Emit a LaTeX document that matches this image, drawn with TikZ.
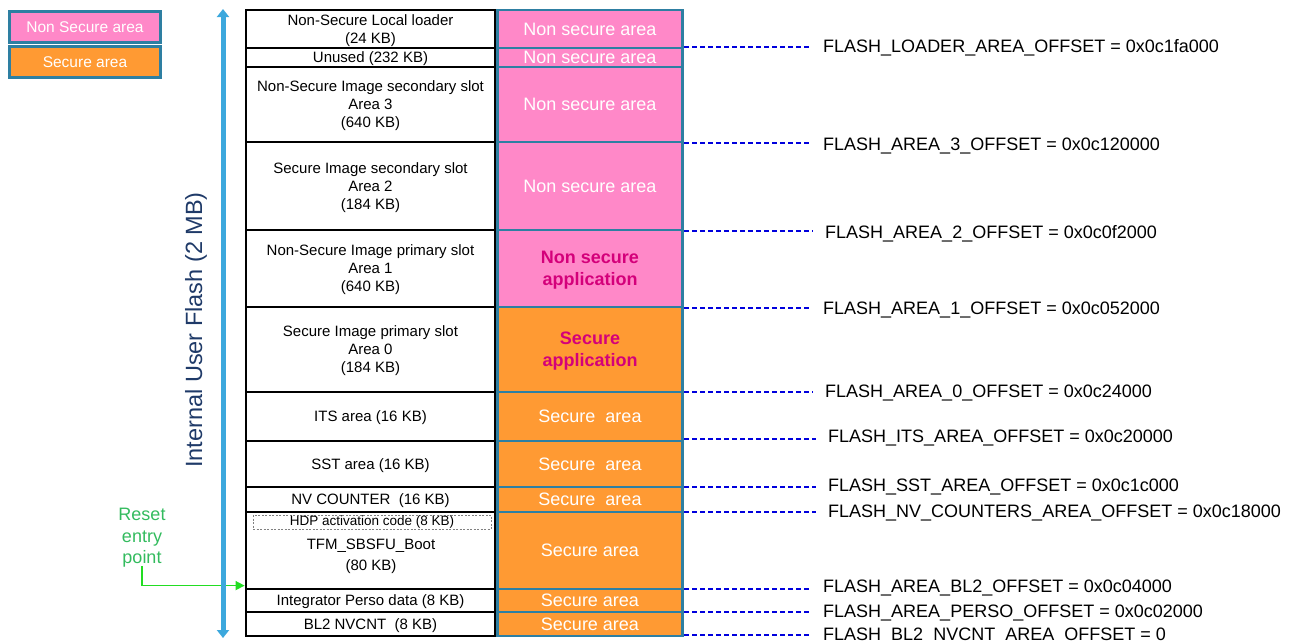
\documentclass[tikz,border=0pt]{standalone}
\usepackage{fontspec}
\setmainfont{Liberation Sans}
\usetikzlibrary{arrows.meta}
\definecolor{pinkA}{HTML}{FF88C8}
\definecolor{orangeA}{HTML}{FF9A33}
\definecolor{cellborder}{HTML}{2E7FA2}
\definecolor{magentaT}{HTML}{D4007A}
\definecolor{navyT}{HTML}{1F3A68}
\definecolor{lblue}{HTML}{3CA8DD}
\definecolor{dashblue}{HTML}{0000DD}
\definecolor{resetgreen}{HTML}{33BB5E}
\definecolor{arrowgreen}{HTML}{22DD22}
\tikzset{
  lbox/.style={draw=black, line width=2.8pt, fill=white, minimum width=249pt, inner sep=0pt, align=center,
    text depth=-2pt, font=\fontsize{15}{18}\selectfont},
  rcell/.style={draw=cellborder, line width=2.6pt, minimum width=185pt, inner sep=0pt, align=center,
    text depth=-2pt, text=white, font=\fontsize{18}{22}\selectfont},
  nscell/.style={rcell, fill=pinkA},
  scell/.style={rcell, fill=orangeA},
  appcell/.style={text=magentaT, font=\fontsize{18}{22}\selectfont\bfseries},
  offlbl/.style={anchor=west, inner sep=0pt, yshift=-1.5pt, font=\fontsize{18}{20}\selectfont, text=black},
  dashln/.style={draw=dashblue, line width=1.2pt, dash pattern=on 5pt off 3pt},
  legbox/.style={draw=cellborder, line width=2.6pt, minimum width=151pt, minimum height=31pt, inner sep=0pt,
    text=white, font=\fontsize{15.5}{18}\selectfont},
}
\begin{document}
\begin{tikzpicture}[x=1pt, y=-1pt]
\useasboundingbox (0,0) rectangle (1295,641);

% legend
\node[legbox, fill=pinkA] (legNS) at (85,27) {Non Secure area};
\node[legbox, fill=orangeA] (legS) at (85,62) {Secure area};

% right column cells
\node[nscell, minimum height=38pt] (R1) at (590,29) {Non secure area};
\node[nscell, minimum height=19pt] (R2) at (590,57.5) {Non secure area};
\node[nscell, minimum height=75pt] (R3) at (590,104.5) {Non secure area};
\node[nscell, minimum height=88pt] (R4) at (590,186) {Non secure area};
\node[nscell, appcell, minimum height=77pt] (R5) at (590,268.5) {Non secure\\application};
\node[scell, appcell, minimum height=85pt] (R6) at (590,349.5) {Secure\\application};
\node[scell, minimum height=49pt] (R7) at (590,416.5) {Secure\ \ area};
\node[scell, minimum height=46pt] (R8) at (590,464) {Secure\ \ area};
\node[scell, minimum height=25pt] (R9) at (590,499.5) {Secure\ \ area};
\node[scell, minimum height=77pt] (R10) at (590,550.5) {Secure area};
\node[scell, minimum height=23pt] (R11) at (590,600.5) {Secure area};
\node[scell, minimum height=24pt] (R12) at (590,624) {Secure area};

% left column boxes
\node[lbox, minimum height=38pt] (L1) at (370.5,29) {Non-Secure Local loader\\(24 KB)};
\node[lbox, minimum height=19pt] (L2) at (370.5,57.5) {Unused (232 KB)};
\node[lbox, minimum height=75pt] (L3) at (370.5,104.5) {Non-Secure Image secondary slot\\Area 3\\(640 KB)};
\node[lbox, minimum height=88pt] (L4) at (370.5,186) {Secure Image secondary slot\\Area 2\\(184 KB)};
\node[lbox, minimum height=77pt] (L5) at (370.5,268.5) {Non-Secure Image primary slot\\Area 1\\(640 KB)};
\node[lbox, minimum height=85pt] (L6) at (370.5,349.5) {Secure Image primary slot\\Area 0\\(184 KB)};
\node[lbox, minimum height=49pt] (L7) at (370.5,416.5) {ITS area (16 KB)};
\node[lbox, minimum height=46pt] (L8) at (370.5,464) {SST area (16 KB)};
\node[lbox, minimum height=25pt] (L9) at (370.5,499.5) {NV COUNTER\ \ (16 KB)};
\node[lbox, minimum height=77pt] (L10) at (370.5,550.5) {};
\node[lbox, minimum height=23pt] (L11) at (370.5,600.5) {Integrator Perso data (8 KB)};
\node[lbox, minimum height=24pt] (L12) at (370.5,624) {BL2 NVCNT\ \ (8 KB)};
\node[draw=gray, line width=0.8pt, dash pattern=on 2pt off 1.5pt, minimum width=238pt, minimum height=14pt,
  inner sep=0pt, font=\fontsize{13.5}{15}\selectfont] (hdp) at (372,522) {HDP activation code (8 KB)};
\node[align=center, inner sep=0pt, font=\fontsize{15}{21}\selectfont] (tfm) at (371,556) {TFM\_SBSFU\_Boot\\(80 KB)};

% offset labels
\node[offlbl] (o1) at (823,46) {FLASH\_LOADER\_AREA\_OFFSET = 0x0c1fa000};
\node[offlbl] (o2) at (823,144) {FLASH\_AREA\_3\_OFFSET = 0x0c120000};
\node[offlbl] (o3) at (825,232) {FLASH\_AREA\_2\_OFFSET = 0x0c0f2000};
\node[offlbl] (o4) at (823,308) {FLASH\_AREA\_1\_OFFSET = 0x0c052000};
\node[offlbl] (o5) at (825,391) {FLASH\_AREA\_0\_OFFSET = 0x0c24000};
\node[offlbl] (o6) at (828,436) {FLASH\_ITS\_AREA\_OFFSET = 0x0c20000};
\node[offlbl] (o7) at (828,485) {FLASH\_SST\_AREA\_OFFSET = 0x0c1c000};
\node[offlbl] (o8) at (828,511) {FLASH\_NV\_COUNTERS\_AREA\_OFFSET = 0x0c18000};
\node[offlbl] (o9) at (823,586) {FLASH\_AREA\_BL2\_OFFSET = 0x0c04000};
\node[offlbl] (o10) at (823,611) {FLASH\_AREA\_PERSO\_OFFSET = 0x0c02000};
\node[offlbl] (o11) at (823,634) {FLASH\_BL2\_NVCNT\_AREA\_OFFSET = 0};

% dashed leaders
\coordinate (d1) at (684,47);
\coordinate (d2) at (684,143);
\coordinate (d3) at (684,231);
\coordinate (d4) at (684,308);
\coordinate (d5) at (684,392);
\coordinate (d6) at (684,439);
\coordinate (d7) at (684,487);
\coordinate (d8) at (684,512);
\coordinate (d9) at (684,589);
\coordinate (d10) at (684,612);
\coordinate (d11) at (684,635);
\foreach \i in {1,...,11} {
  \draw[dashln, shorten >=12pt] (d\i) -- (d\i -| o\i.west);
}

% reset entry point
\node[align=center, inner sep=0pt, text=resetgreen, font=\fontsize{18}{21.5}\selectfont] (reset) at (142,538) {Reset\\entry\\point};
\draw[arrowgreen, line width=1.6pt, -{Triangle[width=9pt,length=9pt]}] ([yshift=2pt]reset.south) |- ([yshift=2pt]L11.north west);

% flash size arrow
\coordinate (atop) at (223,9);
\coordinate (abot) at (223,638);
\draw[lblue, line width=5pt, {Triangle[width=12pt,length=8pt]}-{Triangle[width=12pt,length=8pt]}] (atop) -- (abot);
\node[rotate=90, inner sep=0pt, text=navyT, font=\fontsize{23.5}{26}\selectfont] (flashlbl) at (196,330) {Internal User Flash (2 MB)};
\end{tikzpicture}
\end{document}
